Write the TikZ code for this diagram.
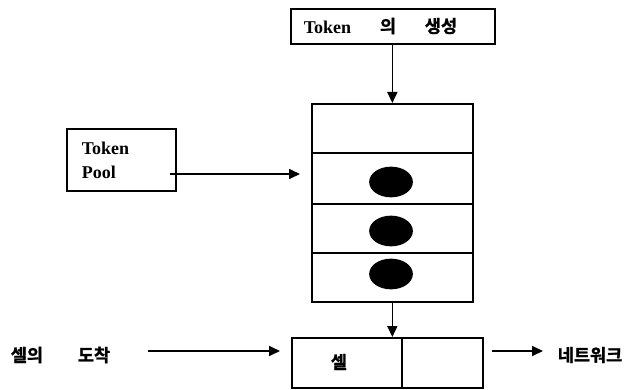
\documentclass[tikz,border=0pt]{standalone}
\usepackage{fontspec}
\setmainfont{Liberation Serif}
\newfontfamily\kofont[FakeBold=1.5]{Noto Sans CJK KR Bold}
\usetikzlibrary{arrows.meta,shapes.geometric}
\begin{document}
\begin{tikzpicture}[x=1pt,y=-1pt,
  line width=1.7pt,
  box/.style={draw,rectangle,inner sep=0pt,anchor=north west},
  tok/.style={draw,fill=black,ellipse,minimum width=42pt,minimum height=29pt,inner sep=0pt},
  lat/.style={font=\fontsize{18}{20}\selectfont\bfseries,inner sep=0pt},
  kor/.style={font=\fontsize{17.5}{19}\kofont,inner sep=0pt},
  flow/.style={-{Triangle[length=11pt,width=10pt]},line width=1.7pt}]
\useasboundingbox (0,0) rectangle (642,390);
% token generator
\node[box,minimum width=204pt,minimum height=35pt] (gen) at (290,8) {};
\node[lat,anchor=west] (gent) at (303,27) {Token};
\node[kor] (genk1) at (388,26) {의};
\node[kor] (genk2) at (441,26) {생성};
% token pool
\node[box,minimum width=109pt,minimum height=62pt] (pool) at (66,128) {};
\node[lat,anchor=west] (poolt1) at (81,148) {Token};
\node[lat,anchor=west] (poolt2) at (81,172) {Pool};
\coordinate (poolout) at (170,174);
% token buffer (four slots)
\node[box,minimum width=161pt,minimum height=49pt] (s1) at (311,103) {};
\node[box,minimum width=161pt,minimum height=51pt] (s2) at (311,152) {};
\node[box,minimum width=161pt,minimum height=49pt] (s3) at (311,203) {};
\node[box,minimum width=161pt,minimum height=49pt] (s4) at (311,252) {};
\node[tok] (t1) at (391,182) {};
\node[tok] (t2) at (391,231) {};
\node[tok] (t3) at (391,274) {};
% cell slot
\node[box,minimum width=110pt,minimum height=50pt] (cell) at (291,337) {};
\node[box,minimum width=81pt,minimum height=50pt] (cell2) at (401,337) {};
\node[kor] (cellt) at (339,362) {셀};
% arrival / network
\node[kor,anchor=west] (arr1) at (10,355) {셀의};
\node[kor,anchor=west] (arr2) at (77,355) {도착};
\node[kor,anchor=west] (net) at (557,355) {네트워크};
\coordinate (arrin) at (148,351);
\coordinate (netout) at (492,351);
% connectors
\draw[flow] (gen.south -| s1.north) -- (s1.north);
\draw[flow] (poolout) -- ([xshift=-11pt]poolout -| s1.west);
\draw[flow] (s4.south) -- (s4.south |- cell.north);
\draw[flow] (arrin) -- ([xshift=-11pt]arrin -| cell.west);
\draw[flow] (netout) -- (543,351);
\end{tikzpicture}
\end{document}
